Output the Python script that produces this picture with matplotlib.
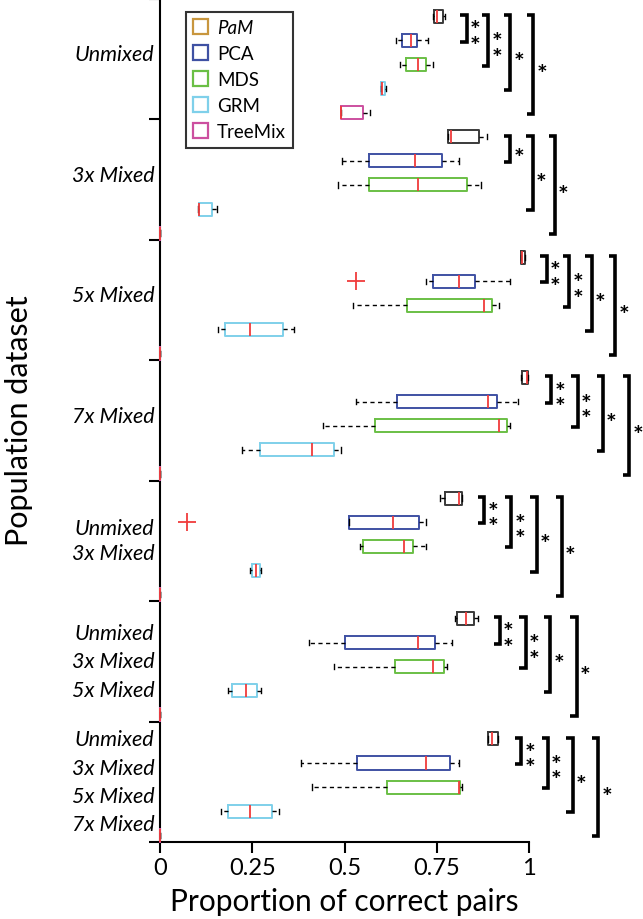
import matplotlib
matplotlib.use("Agg")
import matplotlib.pyplot as plt
from matplotlib.patches import Patch
from matplotlib.transforms import blended_transform_factory

plt.rcParams['font.family'] = ['Lato', 'DejaVu Sans']

# ---------------- data ----------------
methods = ["PaM", "PCA", "MDS", "GRM", "TreeMix"]
group_labels = [
    ["Unmixed"],
    ["3x Mixed"],
    ["5x Mixed"],
    ["7x Mixed"],
    ["Unmixed", "3x Mixed"],
    ["Unmixed", "3x Mixed", "5x Mixed"],
    ["Unmixed", "3x Mixed", "5x Mixed", "7x Mixed"],
]

# five-number summaries per method, one value per group (7 groups)
pam_lo  = [0.740, 0.780, 0.977, 0.978, 0.759, 0.800, 0.890]
pam_q1  = [0.743, 0.781, 0.978, 0.982, 0.772, 0.806, 0.890]
pam_med = [0.750, 0.788, 0.982, 0.994, 0.811, 0.829, 0.899]
pam_q3  = [0.768, 0.865, 0.990, 0.997, 0.818, 0.851, 0.916]
pam_hi  = [0.772, 0.886, 0.990, 0.997, 0.818, 0.861, 0.916]

pca_lo  = [0.640, 0.493, 0.721, 0.532, 0.512, 0.403, 0.383]
pca_q1  = [0.657, 0.566, 0.741, 0.641, 0.512, 0.502, 0.534]
pca_med = [0.681, 0.691, 0.811, 0.888, 0.631, 0.700, 0.721]
pca_q3  = [0.697, 0.763, 0.854, 0.912, 0.703, 0.745, 0.786]
pca_hi  = [0.727, 0.811, 0.948, 0.969, 0.721, 0.790, 0.811]

mds_lo  = [0.650, 0.482, 0.523, 0.441, 0.543, 0.471, 0.412]
mds_q1  = [0.667, 0.566, 0.670, 0.584, 0.551, 0.636, 0.615]
mds_med = [0.699, 0.700, 0.877, 0.919, 0.661, 0.740, 0.811]
mds_q3  = [0.722, 0.832, 0.899, 0.941, 0.686, 0.770, 0.814]
mds_hi  = [0.741, 0.869, 0.919, 0.948, 0.721, 0.778, 0.818]

grm_lo  = [0.599, 0.104, 0.156, 0.223, 0.243, 0.185, 0.164]
grm_q1  = [0.600, 0.105, 0.176, 0.271, 0.248, 0.195, 0.183]
grm_med = [0.601, 0.106, 0.243, 0.412, 0.259, 0.234, 0.243]
grm_q3  = [0.609, 0.141, 0.332, 0.472, 0.271, 0.263, 0.304]
grm_hi  = [0.612, 0.154, 0.362, 0.491, 0.273, 0.273, 0.322]

tmx_lo  = [0.491, 0.0, 0.0, 0.0, 0.0, 0.0, 0.0]
tmx_q1  = [0.491, 0.0, 0.0, 0.0, 0.0, 0.0, 0.0]
tmx_med = [0.491, 0.0, 0.0, 0.0, 0.0, 0.0, 0.0]
tmx_q3  = [0.551, 0.0, 0.0, 0.0, 0.0, 0.0, 0.0]
tmx_hi  = [0.569, 0.0, 0.0, 0.0, 0.0, 0.0, 0.0]

# outliers: (method index, group index, value)
outliers = [(1, 2, 0.532), (1, 4, 0.074)]

# significance brackets per group: (x position, end row, label)
brackets = [
    [(0.831, 1, "**"), (0.889, 2, "**"), (0.949, 3, "*"), (1.011, 4, "*")],
    [(0.949, 1, "*"), (1.010, 3, "*"), (1.070, 4, "*")],
    [(1.048, 1, "**"), (1.109, 2, "**"), (1.170, 3, "*"), (1.233, 4, "*")],
    [(1.060, 1, "**"), (1.132, 2, "**"), (1.200, 3, "*"), (1.271, 4, "*")],
    [(0.879, 1, "**"), (0.951, 2, "**"), (1.021, 3, "*"), (1.089, 4, "*")],
    [(0.921, 1, "**"), (0.991, 2, "**"), (1.057, 3, "*"), (1.129, 4, "*")],
    [(0.978, 1, "**"), (1.051, 2, "**"), (1.118, 3, "*"), (1.187, 4, "*")],
]

xticks = [0, 0.25, 0.5, 0.75, 1]
xtick_labels = ["0", "0.25", "0.5", "0.75", "1"]

# ---------------- style ----------------
legend_colors = ["#c8963e", "#3f51a3", "#6abf45", "#7fd0ea", "#cc4f9f"]
box_colors = ["#3a3a3a", "#3f51a3", "#6abf45", "#7fd0ea", "#cc4f9f"]
median_color = "#f03c3c"

summaries = [
    (pam_lo, pam_q1, pam_med, pam_q3, pam_hi),
    (pca_lo, pca_q1, pca_med, pca_q3, pca_hi),
    (mds_lo, mds_q1, mds_med, mds_q3, mds_hi),
    (grm_lo, grm_q1, grm_med, grm_q3, grm_hi),
    (tmx_lo, tmx_q1, tmx_med, tmx_q3, tmx_hi),
]

n_groups = len(group_labels)
n_methods = len(methods)
row_off = 0.72

def ypos(g, k):
    return g * n_methods + k + row_off

fig = plt.figure(figsize=(6.43, 9.2), dpi=100)
ax = fig.add_axes([160 / 643, 1 - 843 / 920, 1.3 * 369 / 643, 843 / 920])
ax.set_xlim(0, 1.3)
ax.set_ylim(n_groups * n_methods, 0)

for k in range(n_methods):
    lo, q1, med, q3, hi = summaries[k]
    stats = []
    pos = []
    for g in range(n_groups):
        fl = [v for (mk, gk, v) in outliers if mk == k and gk == g]
        stats.append(dict(whislo=lo[g], q1=q1[g], med=med[g], q3=q3[g],
                          whishi=hi[g], fliers=fl))
        pos.append(ypos(g, k))
    ax.bxp(stats, positions=pos, widths=0.54, orientation='horizontal',
           showfliers=True, capwidths=0.22,
           boxprops=dict(color=box_colors[k], linewidth=1.4),
           whiskerprops=dict(color="black", linewidth=1.0, linestyle=(0, (3, 2.5))),
           capprops=dict(color="black", linewidth=1.0),
           medianprops=dict(color=median_color, linewidth=1.3),
           flierprops=dict(marker="+", markeredgecolor=median_color,
                           markersize=13, markeredgewidth=1.3),
           manage_ticks=False)

for line in ax.lines:
    line.set_clip_on(False)
    line.set_zorder(4)

# significance brackets
tick = 0.017
for g in range(n_groups):
    ytop = ypos(g, 0) - 0.05
    for (x, end_row, lab) in brackets[g]:
        ybot = ypos(g, end_row) + 0.05
        ax.plot([x - tick, x, x, x - tick], [ytop, ytop, ybot, ybot],
                color="black", linewidth=2.6, solid_joinstyle="miter",
                solid_capstyle="butt", clip_on=False)
        txt = "*\n*" if lab == "**" else "*"
        ax.text(x + 0.009, (ytop + ybot) / 2 + 0.42, txt, ha="left", va="center",
                fontsize=18, fontweight="bold", linespacing=0.6, clip_on=False)

# group labels
trans = blended_transform_factory(ax.transAxes, ax.transData)
for g, labs in enumerate(group_labels):
    n = len(labs)
    spacing = 1.04 if n == 2 else 1.18
    center = g * n_methods + 2.5 - (0.2 if n == 1 else 0.0)
    for i, lab in enumerate(labs):
        y = center + (i - (n - 1) / 2) * spacing
        ax.text(-0.012, y, lab, transform=trans, ha="right", va="center",
                fontsize=15.5, style="italic")

# axes styling
for s in ["top", "right"]:
    ax.spines[s].set_visible(False)
ax.spines["left"].set_linewidth(1.5)
ax.spines["bottom"].set_linewidth(1.5)
ax.spines["bottom"].set_bounds(0, 1)
ax.set_xticks(xticks)
ax.set_xticklabels(xtick_labels, fontsize=17)
ax.set_yticks([g * n_methods for g in range(n_groups + 1)])
ax.set_yticklabels([])
ax.tick_params(axis="both", direction="out", length=8, width=1.5)
ax.tick_params(axis="x", pad=3)

ax.set_xlabel("Proportion of correct pairs", fontsize=21.5)
ax.xaxis.set_label_coords(0.5 / 1.3, -0.053)
fig.text(19 / 643, 1 - 421 / 920, "Population dataset", rotation=90,
         ha="center", va="center", fontsize=22)

handles = [Patch(facecolor="none", edgecolor=c, linewidth=1.6) for c in legend_colors]
leg = ax.legend(handles, methods, loc="upper left", bbox_to_anchor=(0.054, 0.985),
                borderaxespad=0, fontsize=13.5, frameon=True, fancybox=False,
                handlelength=0.8, handleheight=0.8, labelspacing=0.48,
                handletextpad=0.45, borderpad=0.4)
leg.get_frame().set_edgecolor("black")
leg.get_frame().set_linewidth(1.5)
leg.get_texts()[0].set_style("italic")

fig.savefig("out.png", dpi=100)
